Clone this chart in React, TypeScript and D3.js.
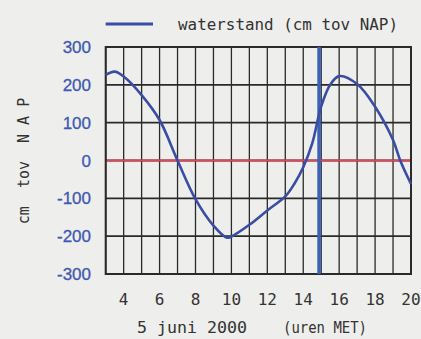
import React from "react";
import * as d3 from "d3";

const hours = [3, 3.5, 4, 5, 6, 7, 8, 9, 9.75, 10, 11, 12, 13, 13.5, 14, 14.5, 15, 15.5, 16, 17, 18, 19, 19.4, 20];
const level = [226, 235, 222, 173, 107, 0, -102, -172, -204, -201, -170, -132, -95, -62, -18, 45, 143, 200, 223, 202, 142, 54, 0, -62];
const yTicks = [-300, -200, -100, 0, 100, 200, 300];
const xTicks = [4, 6, 8, 10, 12, 14, 16, 18, 20];
const nowHour = 14.88;

const W = 421, H = 339;
const margin = { left: 105.7, right: 10, top: 47, bottom: 65 };
const mono = "'DejaVu Sans Mono', monospace";

export default function App() {
  const x = d3.scaleLinear().domain([3, 20]).range([margin.left, W - margin.right]);
  const y = d3.scaleLinear().domain([-300, 300]).range([H - margin.bottom, margin.top]);
  const line = d3
    .line<number>()
    .x((_, i) => x(hours[i]))
    .y(d => y(d))
    .curve(d3.curveCatmullRom.alpha(0.5));

  const hourGrid = d3.range(3, 21);
  return (
    <svg width={W} height={H} style={{ position: "absolute", left: 0, top: 0, background: "#eeeeec" }}>
      {/* legend */}
      <line x1={105.7} x2={153} y1={24} y2={24} stroke="#3a4da6" strokeWidth={3} />
      <text x={178} y={30} fontFamily={mono} fontSize={15} fill="#333" textLength={220} lengthAdjust="spacingAndGlyphs">
        waterstand (cm tov NAP)
      </text>

      {/* grid */}
      {hourGrid.map(h => (
        <line key={"v" + h} x1={x(h)} x2={x(h)} y1={y(300)} y2={y(-300)} stroke="#2a2a2a" strokeWidth={1.3} />
      ))}
      {yTicks.map(v => (
        <line key={"h" + v} x1={x(3)} x2={x(20)} y1={y(v)} y2={y(v)} stroke="#2a2a2a" strokeWidth={1.8} />
      ))}
      <line x1={x(3)} x2={x(20)} y1={y(0)} y2={y(0)} stroke="#e0485a" strokeWidth={2} />
      <rect x={x(3)} y={y(300)} width={x(20) - x(3)} height={y(-300) - y(300)} fill="none" stroke="#2a2a2a" strokeWidth={2} />

      {/* huidig tijdstip */}
      <line x1={x(nowHour)} x2={x(nowHour)} y1={y(300)} y2={y(-300)} stroke="#3a62b8" strokeWidth={3.5} />

      {/* reeks */}
      <path d={line(level) || ""} fill="none" stroke="#3a4da6" strokeWidth={2.6} strokeLinejoin="round" />

      {/* y tick labels */}
      {yTicks.map(v => (
        <text key={"yl" + v} x={91} y={y(v) + 6} textAnchor="end" fontFamily="'Liberation Sans', Arial, sans-serif" fontSize={17} fill="#3f58b4" stroke="#3f58b4" strokeWidth={0.3}>
          {v}
        </text>
      ))}

      {/* x tick labels */}
      {xTicks.map(h => (
        <text key={"xl" + h} x={x(h)} y={305} textAnchor="middle" fontFamily={mono} fontSize={16} fill="#333">
          {h}
        </text>
      ))}
      <text x={137} y={333} fontFamily={mono} fontSize={15} fill="#333" textLength={110} lengthAdjust="spacingAndGlyphs">
        5 juni 2000
      </text>
      <text x={283} y={333} fontFamily={mono} fontSize={15} fill="#333" textLength={84} lengthAdjust="spacingAndGlyphs">
        (uren MET)
      </text>

      {/* y as titel */}
      <text
        transform={`translate(29,161) rotate(-90)`}
        textAnchor="middle"
        fontFamily={mono}
        fontSize={15}
        fill="#333"
        xmlSpace="preserve"
      >
        cm  tov  N A P
      </text>
    </svg>
  );
}
